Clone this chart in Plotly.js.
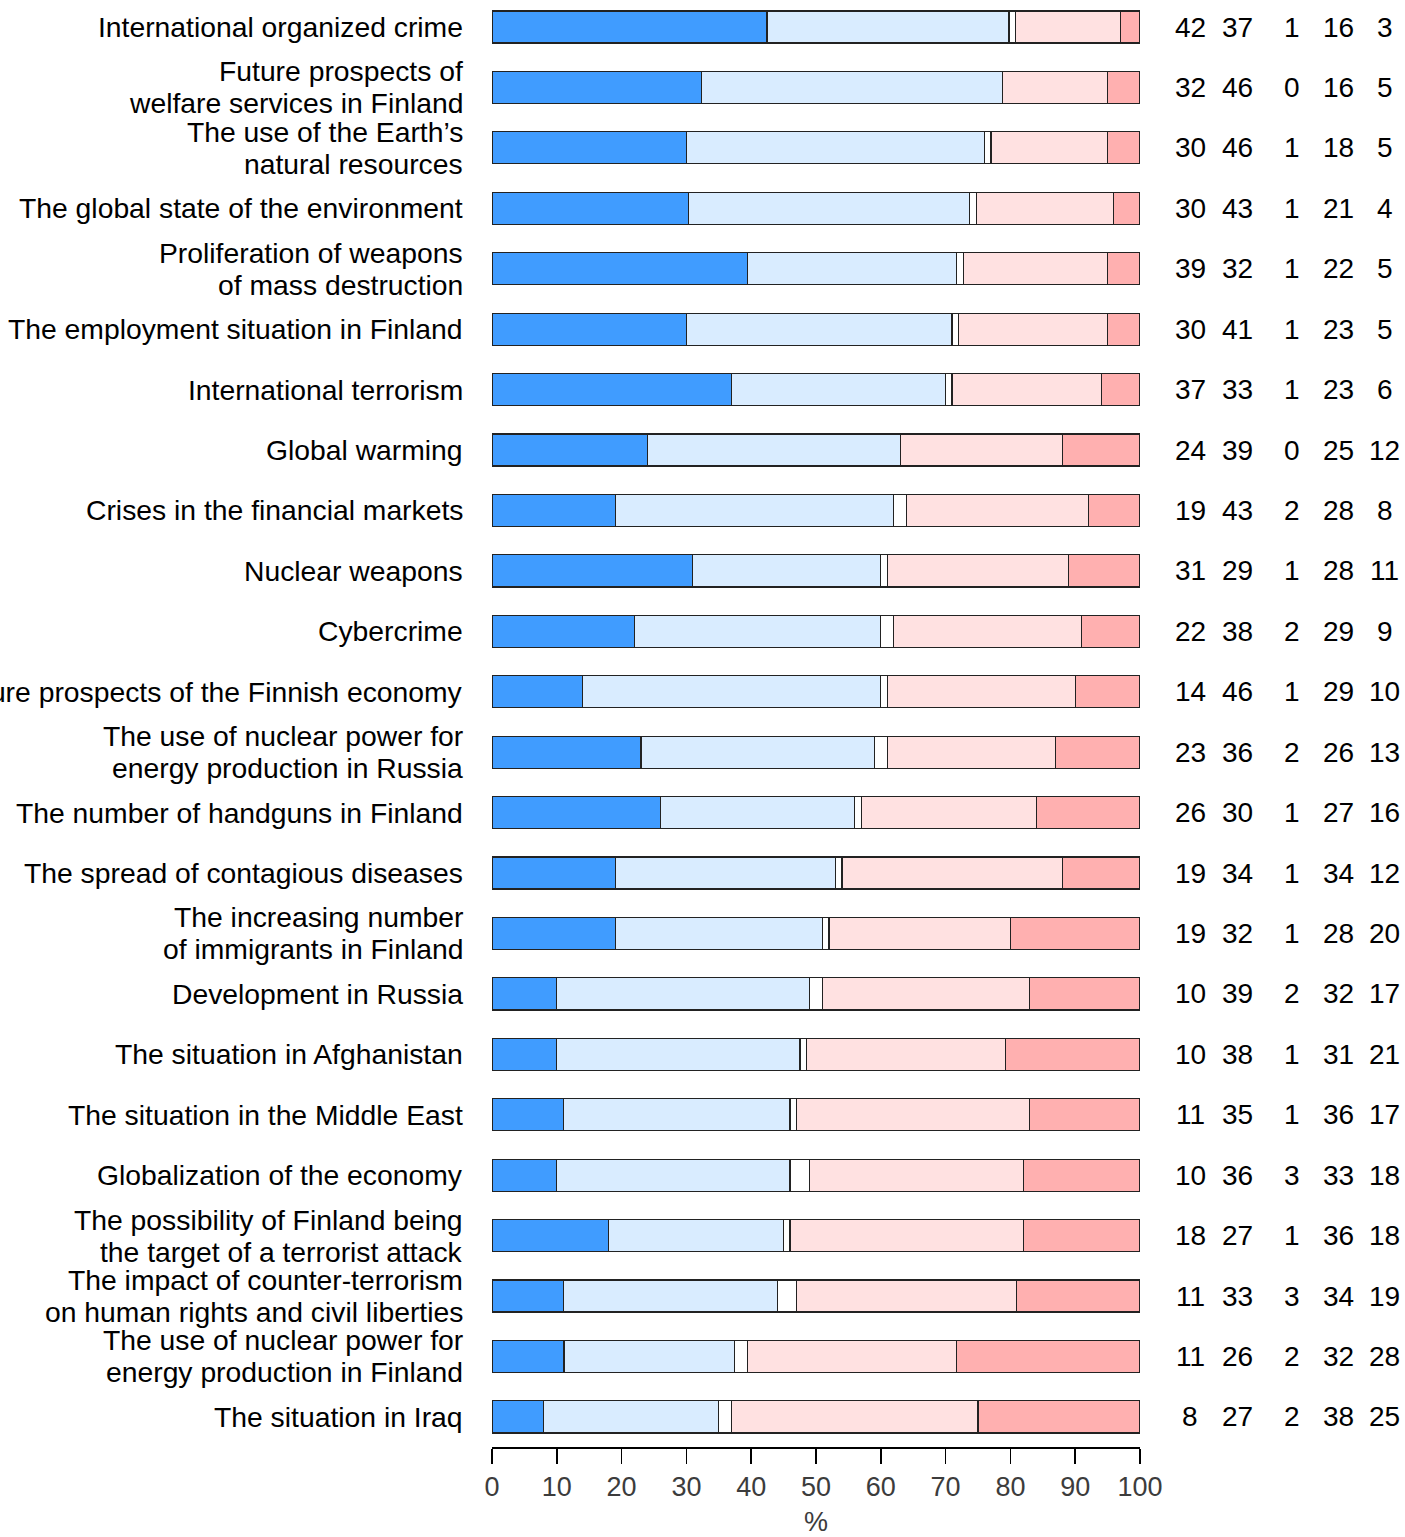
<!DOCTYPE html>
<html>
<head>
<meta charset="utf-8">
<script src="https://cdn.plot.ly/plotly-3.0.1.min.js"></script>
<style>
html,body{margin:0;padding:0;background:#fff;}
#chart{width:1405px;height:1537px;}
</style>
</head>
<body>
<div id="chart"></div>
<script>
const categories = [
  "International organized crime",
  "Future prospects of<br>welfare services in Finland",
  "The use of the Earth’s<br>natural resources",
  "The global state of the environment",
  "Proliferation of weapons<br>of mass destruction",
  "The employment situation in Finland",
  "International terrorism",
  "Global warming",
  "Crises in the financial markets",
  "Nuclear weapons",
  "Cybercrime",
  "Future prospects of the Finnish economy",
  "The use of nuclear power for<br>energy production in Russia",
  "The number of handguns in Finland",
  "The spread of contagious diseases",
  "The increasing number<br>of immigrants in Finland",
  "Development in Russia",
  "The situation in Afghanistan",
  "The situation in the Middle East",
  "Globalization of the economy",
  "The possibility of Finland being<br>the target of a terrorist attack",
  "The impact of counter-terrorism<br>on human rights and civil liberties",
  "The use of nuclear power for<br>energy production in Finland",
  "The situation in Iraq"
];
const series1 = [42,32,30,30,39,30,37,24,19,31,22,14,23,26,19,19,10,10,11,10,18,11,11,8];
const series2 = [37,46,46,43,32,41,33,39,43,29,38,46,36,30,34,32,39,38,35,36,27,33,26,27];
const series3 = [1,0,1,1,1,1,1,0,2,1,2,1,2,1,1,1,2,1,1,3,1,3,2,2];
const series4 = [16,16,18,21,22,23,23,25,28,28,29,29,26,27,34,28,32,31,36,33,36,34,32,38];
const series5 = [3,5,5,4,5,5,6,12,8,11,9,10,13,16,12,20,17,21,17,18,18,19,28,25];
const xTicks = [0,10,20,30,40,50,60,70,80,90,100];

const allSeries = [series1, series2, series3, series4, series5];
const colors = ["#409cff", "#d9ecff", "#ffffff", "#ffe1e1", "#ffb0b0"];
const colX = [1.0772, 1.1512, 1.2346, 1.3056, 1.378];

const font = "Arial, 'Liberation Sans', sans-serif";

const traces = allSeries.map((vals, i) => ({
  type: "bar",
  orientation: "h",
  y: categories,
  x: vals,
  marker: {color: colors[i], line: {color: "#222222", width: 1.2}},
  hoverinfo: "x+y",
  showlegend: false
}));

const annotations = [];
categories.forEach((cat, r) => {
  const lines = cat.split("<br>");
  const n = lines.length;
  lines.forEach((ln, k) => {
    annotations.push({
      xref: "paper", yref: "y", x: 0, y: cat,
      xanchor: "right", yanchor: "middle",
      xshift: -29, yshift: ((n - 1) / 2 - k) * 32,
      borderpad: 0, borderwidth: 0,
      text: ln, showarrow: false,
      font: {family: font, size: 28.3, color: "#000"}
    });
  });
  allSeries.forEach((vals, i) => {
    annotations.push({
      xref: "paper", yref: "y", x: colX[i], y: cat,
      xanchor: "center", yanchor: "middle",
      text: String(vals[r]), showarrow: false,
      font: {family: font, size: 28, color: "#000"}
    });
  });
});

const layout = {
  width: 1405, height: 1537,
  margin: {l: 492, r: 265, t: 0, b: 90, pad: 0},
  paper_bgcolor: "#fff", plot_bgcolor: "#fff",
  barmode: "stack", barnorm: "percent", bargap: 0.47,
  font: {family: font, size: 27, color: "#3c3c3c"},
  xaxis: {
    range: [0, 100], tickvals: xTicks, ticktext: xTicks.map(String),
    showgrid: false, zeroline: false,
    showline: true, linecolor: "#000", linewidth: 2,
    ticks: "outside", ticklen: 15, tickwidth: 1.5, tickcolor: "#000",
    tickfont: {family: font, size: 27, color: "#3c3c3c"},
    title: {text: "%", font: {family: font, size: 27, color: "#3c3c3c"}, standoff: 18},
    automargin: false, fixedrange: true
  },
  yaxis: {
    type: "category", range: [23.498, -0.447],
    showticklabels: false, showgrid: false, zeroline: false, showline: false,
    ticks: "", automargin: false, fixedrange: true
  },
  annotations: annotations
};

Plotly.newPlot("chart", traces, layout, {displayModeBar: false, staticPlot: true});
</script>
</body>
</html>
